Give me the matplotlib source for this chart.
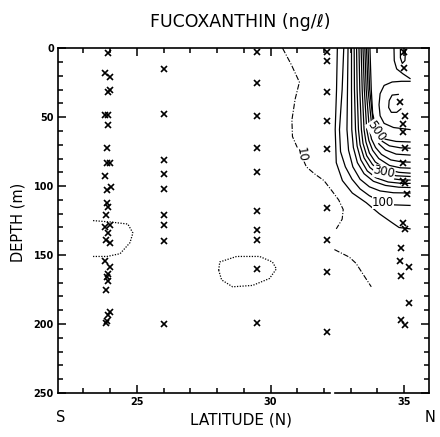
import matplotlib.pyplot as plt
from matplotlib.ticker import MultipleLocator

# --- data lest av figuren: stasjoner (breddegrad, dyp i m) ---
st1_lat = [23.92, 23.81, 24.0, 23.92, 24.0, 23.81, 23.92, 23.92, 23.88, 23.88, 24.0, 23.81,
           23.88, 24.02, 23.88, 23.92, 23.85, 24.0, 23.81, 23.92, 23.85, 23.99, 23.81,
           23.99, 23.92, 23.88, 23.92, 23.85, 23.99, 23.92, 23.88, 23.85]
st1_dyp = [3.6, 18, 21, 32, 30, 48.5, 48.5, 56, 72, 83, 83, 93, 103, 100.7, 112, 115, 121,
           128, 129.7, 134, 139, 141, 154, 159, 164, 166, 169, 175, 191, 193.5, 198, 199]
st2_lat = 26.0
st2_dyp = [15, 48, 81, 91, 102, 121, 128, 140, 200]
st3_lat = 29.5
st3_dyp = [3, 25, 49, 72, 90, 118, 132, 139, 160, 199]
st4_lat = 32.1
st4_dyp = [3, 9, 32, 53, 73, 116, 139, 162, 206]
st5_lat = [35.0, 35.0, 34.85, 35.05, 34.95, 34.95, 35.05, 34.95, 34.95, 35.05, 35.1,
           34.95, 35.05, 34.9, 34.85, 35.2, 34.9, 35.2, 34.9, 35.05]
st5_dyp = [3, 14, 39, 49, 55, 61, 72, 83, 96, 98, 106, 127, 131, 145, 154, 159, 165,
           185, 197, 201]

# --- konturlinjer (breddegrad, dyp), lest av figuren ---
k_heltrukne = [
    [(32.50, 0), (32.47, 30), (32.42, 59), (32.46, 83), (32.69, 96), (33.06, 105), (33.58, 112),
     (34.07, 120), (34.51, 126), (34.81, 130), (35.22, 131)],
    [(32.74, 0), (32.68, 30), (32.58, 59), (32.62, 75), (32.8, 86), (33.05, 95), (33.35, 102),
     (33.7, 107), (34.1, 111), (34.5, 113.5), (35.22, 114)],
    [(32.90, 0), (32.88, 30), (32.86, 59), (32.92, 74), (33.08, 86), (33.35, 95), (33.7, 100.5),
     (34.1, 103.5), (34.6, 104.8), (35.22, 105)],
    [(33.03, 0), (33.03, 30), (33.04, 59), (33.1, 72), (33.25, 83), (33.5, 91), (33.85, 96.5),
     (34.3, 99.5), (34.8, 100.8), (35.22, 101)],
    [(33.13, 0), (33.14, 30), (33.18, 59), (33.24, 71), (33.38, 81), (33.62, 89), (33.95, 94),
     (34.4, 97), (34.9, 98), (35.22, 98)],
    [(33.22, 0), (33.24, 30), (33.29, 59), (33.35, 70), (33.5, 79.5), (33.72, 86.5), (34.05, 91.5),
     (34.5, 94.5), (34.9, 95.5), (35.22, 95.6)],
    [(33.31, 0), (33.34, 30), (33.40, 59), (33.46, 69), (33.6, 78), (33.82, 84.5), (34.25, 90),
     (34.7, 92.5), (35.22, 93)],
    [(33.39, 0), (33.43, 30), (33.50, 59), (33.57, 68), (33.7, 76), (33.92, 82.5), (34.3, 87.5),
     (34.8, 90), (35.22, 90.6)],
    [(33.46, 0), (33.51, 30), (33.60, 59), (33.68, 67), (33.82, 74), (34.05, 80), (34.45, 85),
     (34.85, 86.7), (35.22, 87)],
    [(33.53, 0), (33.58, 30), (33.70, 59), (33.78, 66), (33.93, 72), (34.15, 77), (34.5, 81),
     (34.9, 82.4), (35.22, 82.6)],
    [(33.59, 0), (33.65, 30), (33.79, 57), (33.9, 64), (34.06, 69.5), (34.3, 73.8), (34.7, 76.8),
     (35.22, 77.5)],
    [(33.65, 0), (33.71, 30), (33.85, 55), (33.98, 62), (34.18, 67.5), (34.45, 70.8), (34.85, 72.2),
     (35.22, 72.5)],
    [(33.72, 0), (33.77, 30), (33.82, 47), (33.95, 59), (34.1, 63.5), (34.3, 66), (34.7, 67.6),
     (35.22, 68)],
    [(35.22, 24), (34.9, 24), (34.55, 24.5), (34.25, 27), (34.1, 33), (34.06, 41), (34.1, 49),
     (34.25, 54.5), (34.6, 57.5), (35.22, 59)],
    [(34.62, 0), (34.63, 9), (34.72, 15), (34.95, 18.5), (35.22, 22)],
    [(34.86, 1), (34.86, 7), (34.93, 11), (35.03, 9), (35.05, 1)],
    [(34.78, 33.5), (34.55, 34), (34.44, 38), (34.42, 43), (34.52, 46.5), (34.72, 46.5), (34.88, 44)],
]
k10_a = [(30.45, 0), (30.78, 12), (31.08, 24.6), (30.92, 37), (30.8, 52), (30.82, 64), (31.0, 72),
         (31.16, 78), (31.34, 86), (31.64, 91), (32.0, 96), (32.28, 103), (32.55, 110),
         (32.72, 117), (32.68, 124), (32.46, 131)]
k10_b = [(32.39, 146), (32.95, 151.5), (33.2, 156), (33.5, 165), (33.77, 173)]
k_prikk_a = [(23.36, 125), (24.0, 126), (24.66, 127.5), (24.85, 134), (24.74, 141), (24.37, 149),
             (23.88, 151), (23.36, 151)]
k_prikk_b = [(28.06, 161), (28.1, 155), (28.73, 151), (29.59, 151), (30.07, 155), (30.22, 160),
             (29.96, 167), (29.33, 172), (28.58, 173), (28.17, 168), (28.06, 161)]

# etiketter: tekst, breddegrad, dyp, rotasjon
etiketter = [("10", 31.16, 77, -80), ("500", 33.96, 60, -55), ("300", 34.25, 90, -12),
             ("100", 34.2, 112, 0)]

plt.rcParams['font.family'] = ['DejaVu Sans']
fig = plt.figure(figsize=(4.4, 4.37), dpi=100)
ax = fig.add_axes([0.132, 0.1007, 0.843, 0.789])


def tegn(punkter, **kw):
    xs = [p[0] for p in punkter]
    ys = [p[1] for p in punkter]
    ax.plot(xs, ys, color='black', **kw)


for linje in k_heltrukne:
    tegn(linje, lw=0.9)
tegn(k10_a, lw=0.8, linestyle=(0, (5, 1.5, 1, 1.5)))
tegn(k10_b, lw=0.8, linestyle=(0, (5, 1.5, 1, 1.5)))
tegn(k_prikk_a, lw=0.9, linestyle=(0, (1, 1.2)))
tegn(k_prikk_b, lw=0.9, linestyle=(0, (1, 1.2)))

for tekst, x, y, rot in etiketter:
    ax.text(x, y, tekst, fontsize=8.5, rotation=rot, ha='center', va='center',
            bbox=dict(facecolor='white', edgecolor='none', pad=0.1))

# stasjonsmarkører
mk = dict(marker='x', linestyle='none', color='black', markersize=3.8, mew=1.2)
ax.plot(st1_lat, st1_dyp, **mk)
ax.plot([st2_lat] * len(st2_dyp), st2_dyp, **mk)
ax.plot([st3_lat] * len(st3_dyp), st3_dyp, **mk)
ax.plot([st4_lat] * len(st4_dyp), st4_dyp, **mk)
ax.plot(st5_lat, st5_dyp, **mk)

ax.set_xlim(22.05, 35.93)
ax.set_ylim(250, 0)
ax.xaxis.set_major_locator(MultipleLocator(5))
ax.xaxis.set_minor_locator(MultipleLocator(1))
ax.yaxis.set_major_locator(MultipleLocator(50))
ax.yaxis.set_minor_locator(MultipleLocator(10))
ax.tick_params(which='both', direction='in', top=True, right=True, width=1.1)
ax.tick_params(which='major', length=6, labelsize=7, pad=3)
ax.tick_params(which='minor', length=3.5)
for lab in ax.get_xticklabels() + ax.get_yticklabels():
    lab.set_fontweight('bold')

for s in ax.spines.values():
    s.set_linewidth(1.2)
# nedre akselinje har et lite brudd
ax.spines['bottom'].set_visible(False)
ax.plot([0, 0.733], [0, 0], transform=ax.transAxes, color='black', lw=1.2, clip_on=False)
ax.plot([0.747, 1], [0, 0], transform=ax.transAxes, color='black', lw=1.2, clip_on=False)

fig.text(0.545, 0.95, "FUCOXANTHIN (ng/ℓ)", fontsize=12.5, ha='center', va='center')
fig.text(0.547, 0.04, "LATITUDE (N)", fontsize=11, ha='center', va='center')
fig.text(0.138, 0.045, "S", fontsize=10.5, ha='center', va='center')
fig.text(0.978, 0.045, "N", fontsize=10.5, ha='center', va='center')
fig.text(0.042, 0.492, "DEPTH (m)", fontsize=10.5, rotation=90, ha='center', va='center')

fig.savefig("out.png", dpi=100)
